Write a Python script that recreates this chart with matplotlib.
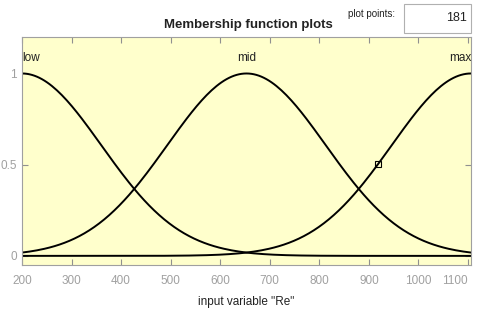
import numpy as np
import matplotlib.pyplot as plt
from matplotlib.patches import Rectangle

# input range and gaussian MF parameters [sigma, center]
x_range = [200, 1106]
mf_names = ['low', 'mid', 'max']
mf_sigma = [160, 160, 160]
mf_center = [200, 653, 1106]
n_points = 181
marker_x = 918
x_ticks = [200, 300, 400, 500, 600, 700, 800, 900, 1000, 1100]
y_ticks = [0, 0.5, 1]

plt.rcParams['font.family'] = ['Liberation Sans', 'DejaVu Sans']

x = np.linspace(x_range[0], x_range[1], n_points)

fig = plt.figure(figsize=(4.8, 3.1), dpi=100)
fig.patch.set_facecolor('white')
ax = fig.add_axes([22 / 480, 45 / 310, 449 / 480, 228 / 310])
ax.set_facecolor('#ffffcc')

for name, s, c in zip(mf_names, mf_sigma, mf_center):
    y = np.exp(-(x - c) ** 2 / (2 * s ** 2))
    ax.plot(x, y, color='black', lw=1.4)
    if c <= x_range[0]:
        ha = 'left'
    elif c >= x_range[1]:
        ha = 'right'
    else:
        ha = 'center'
    ax.text(c, 1.05, name, ha=ha, va='bottom', fontsize=8.5, color='#222222')

# selected point marker on the 'max' curve
ym = np.exp(-(marker_x - mf_center[2]) ** 2 / (2 * mf_sigma[2] ** 2))
ax.plot([marker_x], [ym], marker='s', ms=5, mfc='none', mec='black', mew=0.8)

ax.set_xlim(x_range)
ax.set_ylim(-0.05, 1.2)
ax.set_xticks(x_ticks)
ax.set_yticks(y_ticks)
ax.set_yticklabels(['0', '0.5', '1'])
ax.tick_params(direction='in', length=4, colors='#909090', labelsize=8.5,
               top=True, right=True, labelcolor='#a0a0a0')
ax.tick_params(axis='x', pad=7)
ax.get_xticklabels()[-1].set_horizontalalignment('right')
for sp in ax.spines.values():
    sp.set_color('#a0a0a0')
ax.set_xlabel('input variable "Re"', fontsize=8.5, color='#222222', labelpad=7)

fig.text(248 / 480, 1 - 25 / 310, 'Membership function plots', ha='center',
         va='center', fontsize=9.5, fontweight='bold', color='#222222')
fig.text(372 / 480, 1 - 14 / 310, 'plot points:', ha='center', va='center',
         fontsize=7, color='#222222')
fig.patches.append(Rectangle((404 / 480, 1 - 33 / 310), 67 / 480, 29 / 310,
                             transform=fig.transFigure, facecolor='white',
                             edgecolor='#b0b0b0', lw=0.8))
fig.text(467 / 480, 1 - 18 / 310, str(n_points), ha='right', va='center',
         fontsize=9, color='#222222')

fig.savefig('out.png', dpi=100)
